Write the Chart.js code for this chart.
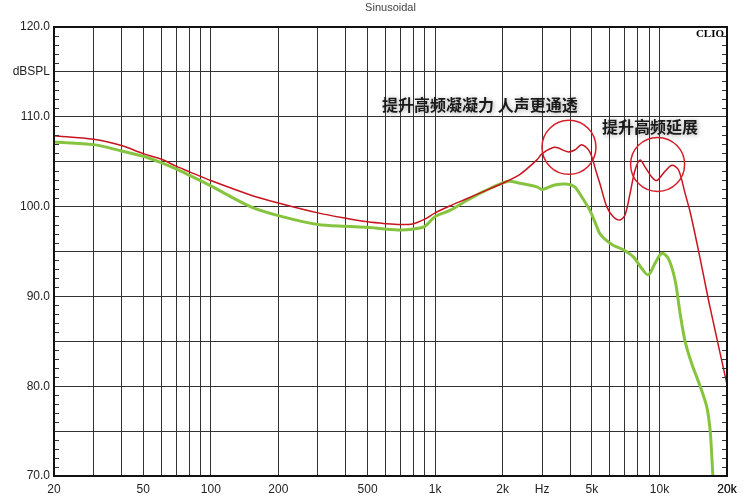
<!DOCTYPE html>
<html><head><meta charset="utf-8">
<script src="https://cdn.jsdelivr.net/npm/chart.js@4"></script>
<style>html,body{margin:0;padding:0;background:#fff}#wrap{width:748px;height:497px}</style>
</head><body><div id="wrap"><canvas id="c" width="748" height="497"></canvas></div>
<script>
const redFreq = [20,30,40,50,60,70,80,100,150,200,300,400,500,600,700,800,900,1000,1170,1390,1650,2000,2390,2840,3000,3410,3900,4190,4500,4890,5250,5420,5820,6210,6670,7030,7400,7790,8200,8630,9240,9730,10400,11350,12150,13000,13700,14670,15700,16800,20000];
const redVal  = [107.9,107.5,106.8,105.9,105.3,104.5,103.9,102.9,101.3,100.4,99.3,98.7,98.3,98.1,98.0,98.1,98.6,99.3,100.1,100.9,101.7,102.6,103.6,105.2,105.9,106.6,106.1,106.3,106.9,106.1,103.7,102.6,100.0,98.9,98.5,99.1,101.5,104.1,105.2,104.4,103.3,102.9,103.7,104.6,104.1,101.5,99.4,96.0,92.4,88.8,80.2];
const greenFreq = [20,30,40,50,60,70,80,100,150,200,300,400,500,600,700,800,900,1000,1170,1390,1650,2100,2390,2840,3000,3410,3900,4190,4500,4890,5250,5420,5820,6210,6900,7650,8340,8920,9560,10240,10960,11740,12360,13010,13930,15180,16250,16820,17110,17300];
const greenVal  = [107.2,106.9,106.2,105.6,104.9,104.2,103.5,102.3,100.0,99.0,98.0,97.8,97.7,97.5,97.4,97.5,97.8,98.9,99.6,100.7,101.7,102.8,102.6,102.2,101.9,102.4,102.5,102.2,101.1,99.6,97.8,97.0,96.2,95.7,95.2,94.4,93.1,92.4,93.7,94.8,94.2,91.8,88.1,85.0,82.5,80.0,77.7,75.1,72.2,70.0];
const xLabels = {20:'20',50:'50',100:'100',200:'200',500:'500',1000:'1k',2000:'2k',3000:'Hz',5000:'5k',10000:'10k',20000:'20k'};
const yLabels = {70:'70.0',80:'80.0',90:'90.0',100:'100.0',110:'110.0',115:'dBSPL',120:'120.0'};
const notes = [
  {text:'提升高频凝凝力 人声更通透', f:580, db:111.3},
  {text:'提升高频延展', f:5550, db:108.9}
];
const circles = [{f:3950, db:106.6, r:27},{f:9810, db:104.7, r:27}];

const toPts = (fs, vs) => fs.map((f,i)=>({x:f,y:vs[i]}));

const deco = {
  id:'deco',
  afterDatasetsDraw(chart){
    const {ctx, chartArea:a, scales:{x,y}} = chart;
    ctx.save();
    ctx.strokeStyle='#333'; ctx.lineWidth=1;
    for(let v=71; v<120; v++){
      if(v%5===0) continue;
      const py=Math.round(y.getPixelForValue(v))+0.5;
      ctx.beginPath(); ctx.moveTo(a.left,py); ctx.lineTo(a.left+5,py); ctx.stroke();
      ctx.beginPath(); ctx.moveTo(a.right-5,py); ctx.lineTo(a.right,py); ctx.stroke();
    }
    ctx.strokeStyle='#111'; ctx.lineWidth=2;
    ctx.strokeRect(a.left, a.top, a.right-a.left, a.bottom-a.top);
    ctx.strokeStyle='#d8202a'; ctx.lineWidth=1.5;
    circles.forEach(c=>{
      ctx.beginPath(); ctx.arc(x.getPixelForValue(c.f), y.getPixelForValue(c.db), c.r, 0, Math.PI*2); ctx.stroke();
    });
    ctx.font='bold 16px "Noto Sans CJK SC"';
    ctx.textBaseline='middle'; ctx.textAlign='left';
    ctx.shadowColor='rgba(0,0,0,0.35)'; ctx.shadowBlur=5; ctx.shadowOffsetX=1; ctx.shadowOffsetY=1;
    ctx.fillStyle='#1a1a1a';
    notes.forEach(n=>ctx.fillText(n.text, x.getPixelForValue(n.f), y.getPixelForValue(n.db)));
    ctx.shadowColor='transparent';
    ctx.font='bold 11px "Liberation Serif"'; ctx.textAlign='right'; ctx.fillStyle='#000';
    ctx.fillText('CLIO', a.right-3, a.top+7);
    ctx.font='11px "Liberation Sans"'; ctx.textAlign='center'; ctx.fillStyle='#444';
    ctx.fillText('Sinusoidal', (a.left+a.right)/2, 8);
    ctx.restore();
  }
};

new Chart(document.getElementById('c'), {
  type:'line',
  data:{datasets:[
    {data:toPts(redFreq,redVal), borderColor:'#c8141e', borderWidth:1.5, pointRadius:0, tension:0.3, fill:false, order:1},
    {data:toPts(greenFreq,greenVal), borderColor:'#86c440', borderWidth:3, pointRadius:0, tension:0.3, fill:false, order:2}
  ]},
  options:{
    responsive:false, animation:false, events:[],
    layout:{padding:{top:27,right:21,left:0,bottom:0}},
    plugins:{legend:{display:false}, tooltip:{enabled:false}, title:{display:false}},
    scales:{
      x:{type:'logarithmic', min:20, max:20000,
         afterFit(s){s.height=21;},
         afterBuildTicks(s){ const t=[]; for(let d=10; d<=10000; d*=10){ for(let m=1;m<=9;m++){ const v=m*d; if(v>=20&&v<=20000) t.push({value:v}); } } t.push({value:20000}); s.ticks=t; },
         grid:{color:'#333', lineWidth:1, drawTicks:false},
         border:{display:false},
         ticks:{autoSkip:false, maxRotation:0, padding:6, color:'#222', font:{family:'"Liberation Sans"', size:12},
           callback(v){ return xLabels[v]!==undefined ? xLabels[v] : ''; }}
      },
      y:{min:70, max:120,
         afterFit(s){s.width=54;},
         grid:{color:'#333', lineWidth:1, drawTicks:false},
         border:{display:false},
         ticks:{stepSize:5, padding:4, color:'#222', font:{family:'"Liberation Sans"', size:12},
           callback(v){ return yLabels[v]!==undefined ? yLabels[v] : ''; }}
      }
    }
  },
  plugins:[deco]
});
</script></body></html>
